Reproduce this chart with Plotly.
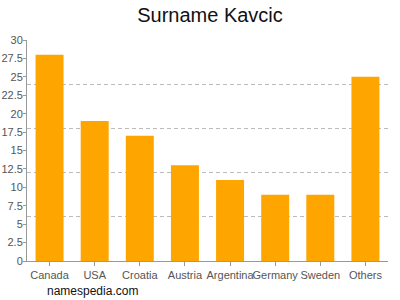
import plotly.graph_objects as go

categories = ["Canada", "USA", "Croatia", "Austria", "Argentina", "Germany", "Sweden", "Others"]
values = [28, 19, 17, 13, 11, 9, 9, 25]
y_ticks = [0, 2.5, 5, 7.5, 10, 12.5, 15, 17.5, 20, 22.5, 25, 27.5, 30]
grid_vals = [6, 12, 18, 24, 30]

fig = go.Figure()
fig.add_trace(go.Bar(x=categories, y=values, marker=dict(color="#FFA500", line=dict(width=0)),
                     width=0.62, hoverinfo="x+y"))
# invisible trace on second axis to carry the dashed grid
fig.add_trace(go.Scatter(x=categories[:1], y=[0], yaxis="y2", mode="markers",
                         marker=dict(opacity=0), showlegend=False, hoverinfo="skip"))

fig.update_layout(
    width=400, height=300,
    margin=dict(l=27, r=12, t=40, b=39, autoexpand=False),
    paper_bgcolor="white", plot_bgcolor="white",
    showlegend=False,
    title=dict(text="Surname Kavcic", x=0.525, xanchor="center", y=0.95, yanchor="middle",
               font=dict(family="Liberation Sans, Arial, sans-serif", size=20, color="#111")),
    font=dict(family="Liberation Sans, Arial, sans-serif", size=11, color="#555"),
    xaxis=dict(showline=True, linecolor="#999", linewidth=1, ticks="outside", ticklen=4,
               tickcolor="#999", tickfont=dict(size=11, color="#555"), showgrid=False,
               tickangle=0, automargin=False),
    yaxis=dict(range=[0, 30], tickvals=y_ticks, ticktext=[f"{v:g}" for v in y_ticks],
               showline=True, linecolor="#999", linewidth=1, ticks="outside", ticklen=3,
               tickcolor="#999", tickfont=dict(size=11, color="#555"), showgrid=False,
               zeroline=False, automargin=False, ticklabelstandoff=-2),
    yaxis2=dict(range=[0, 30.05], overlaying="y", tickvals=grid_vals, showticklabels=False,
                showgrid=True, gridcolor="#bbb", griddash="4px,3px", gridwidth=1, zeroline=False,
                side="left", showline=False, automargin=False),
    bargap=0.38,
)
fig.add_annotation(text="namespedia.com", xref="paper", yref="paper", x=0.05, y=-0.135,
                   xanchor="left", yanchor="middle", showarrow=False,
                   font=dict(family="Liberation Sans, Arial, sans-serif", size=12, color="#111"))
fig.write_html("out.html")
